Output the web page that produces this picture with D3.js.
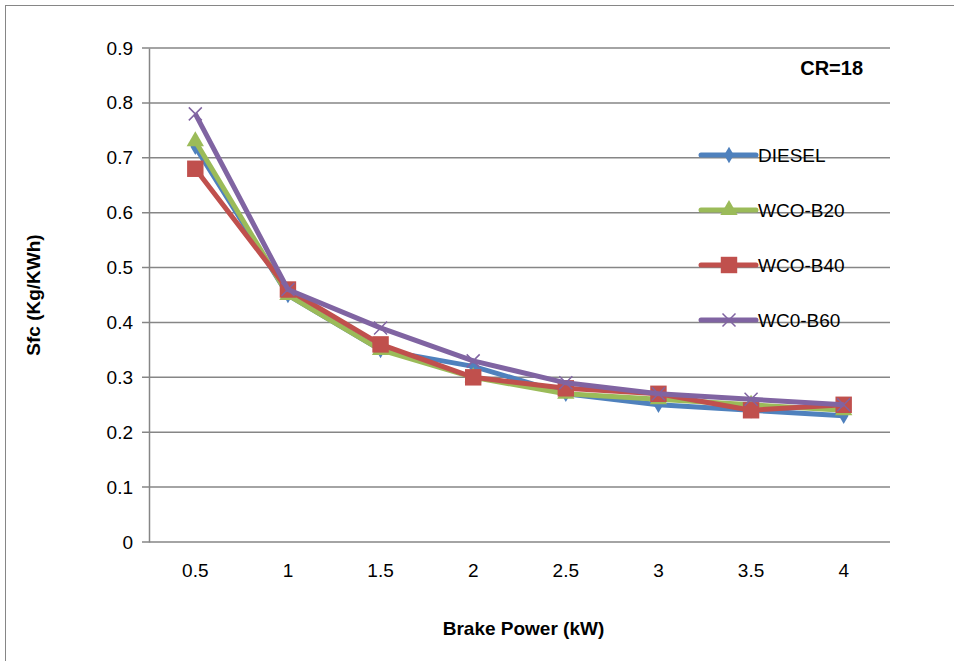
<!DOCTYPE html>
<html>
<head>
<meta charset="utf-8">
<script src="https://cdn.jsdelivr.net/npm/d3@7"></script>
<style>
  body { margin: 0; background: #fff; }
  text { font-family: "Liberation Sans", Arial, sans-serif; }
</style>
</head>
<body>
<script>
// values
const power = ["0.5", "1", "1.5", "2", "2.5", "3", "3.5", "4"];
const diesel = [0.72, 0.45, 0.35, 0.32, 0.27, 0.25, 0.24, 0.23];
const b20 = [0.73, 0.45, 0.35, 0.30, 0.27, 0.26, 0.25, 0.24];
const b40 = [0.68, 0.46, 0.36, 0.30, 0.28, 0.27, 0.24, 0.25];
const b60 = [0.78, 0.46, 0.39, 0.33, 0.29, 0.27, 0.26, 0.25];
const yTicks = [0, 0.1, 0.2, 0.3, 0.4, 0.5, 0.6, 0.7, 0.8, 0.9];

const series = [
    {name: "DIESEL", values: diesel, color: "#4F81BD", symbol: d3.symbolDiamond, size: 80},
    {name: "WCO-B20", values: b20, color: "#9BBB59", symbol: d3.symbolTriangle, size: 130},
    {name: "WCO-B40", values: b40, color: "#C0504D", symbol: d3.symbolSquare, size: 270},
    {name: "WC0-B60", values: b60, color: "#8064A2", symbol: "x", size: 13}
];

const svgWidth = 954;
const svgHeight = 661;
const margin = {top: 48, right: 64, bottom: 119, left: 149};
const chartWidth = svgWidth - margin.left - margin.right;
const chartHeight = svgHeight - margin.top - margin.bottom;

const svg = d3.select("body").append("svg")
    .attr("width", svgWidth)
    .attr("height", svgHeight);

// outer frame
svg.append("rect")
    .attr("x", 5.5).attr("y", 5.5)
    .attr("width", 1000).attr("height", 1000)
    .attr("fill", "none")
    .attr("stroke", "#868686");

const g = svg.append("g")
    .attr("transform", `translate(${margin.left}, ${margin.top})`);

const scaleX = d3.scaleBand()
    .domain(power)
    .range([0, chartWidth]);

const scaleY = d3.scaleLinear()
    .domain([0, 0.9])
    .range([chartHeight, 0]);

// gridlines
g.append("g")
    .selectAll("line")
    .data(yTicks)
    .join("line")
    .attr("x1", -7)
    .attr("x2", chartWidth)
    .attr("y1", d => scaleY(d))
    .attr("y2", d => scaleY(d))
    .attr("stroke", "#868686")
    .attr("stroke-width", 1.5);

// y axis
const yAxis = g.append("g")
    .call(d3.axisLeft(scaleY).tickValues(yTicks).tickSize(0).tickPadding(16).tickFormat(d => d3.format("")(+d.toFixed(1))));
yAxis.select(".domain").attr("stroke", "#868686").attr("stroke-width", 1.5);
yAxis.selectAll("text").style("font-size", "19px").attr("fill", "#000")
    .style("font-family", "'Liberation Sans', Arial, sans-serif");

// x axis
const xAxis = g.append("g")
    .attr("transform", `translate(0, ${chartHeight})`)
    .call(d3.axisBottom(scaleX).tickSize(0).tickPadding(22));
xAxis.select(".domain").remove();
xAxis.selectAll("text").style("font-size", "19px").attr("fill", "#000")
    .style("font-family", "'Liberation Sans', Arial, sans-serif");

// axis titles
g.append("text")
    .attr("x", chartWidth / 2 + 4)
    .attr("y", chartHeight + 93)
    .attr("text-anchor", "middle")
    .style("font-size", "19px")
    .style("font-weight", "bold")
    .text("Brake Power (kW)");

g.append("text")
    .attr("transform", `translate(${-109}, ${chartHeight / 2}) rotate(-90)`)
    .attr("text-anchor", "middle")
    .style("font-size", "19px")
    .style("font-weight", "bold")
    .text("Sfc (Kg/KWh)");

g.append("text")
    .attr("x", 714)
    .attr("y", 27)
    .attr("text-anchor", "end")
    .style("font-size", "20px")
    .style("font-weight", "bold")
    .text("CR=18");

const cx = (d, i) => scaleX(power[i]) + scaleX.bandwidth() / 2;

function drawMarker(sel, s) {
    if (s.symbol === "x") {
        const h = s.size / 2;
        sel.append("path")
            .attr("d", `M${-h},${-h}L${h},${h}M${-h},${h}L${h},${-h}`)
            .attr("stroke", s.color)
            .attr("stroke-width", 1.5)
            .attr("fill", "none");
    } else {
        sel.append("path")
            .attr("d", d3.symbol().type(s.symbol).size(s.size)())
            .attr("fill", s.color);
    }
}

const line = d3.line()
    .x(cx)
    .y(d => scaleY(d));

series.forEach(s => {
    g.append("path")
        .datum(s.values)
        .attr("d", line)
        .attr("fill", "none")
        .attr("stroke", s.color)
        .attr("stroke-width", 5)
        .attr("stroke-linejoin", "round");

    g.append("g")
        .selectAll("g")
        .data(s.values)
        .join("g")
        .attr("transform", (d, i) => `translate(${cx(d, i)}, ${scaleY(d)})`)
        .each(function () { drawMarker(d3.select(this), s); });
});

// legend
const legend = g.append("g")
    .attr("transform", `translate(${552}, ${107})`);

series.forEach((s, i) => {
    const row = legend.append("g")
        .attr("transform", `translate(0, ${i * 55})`);
    row.append("line")
        .attr("x1", 0).attr("x2", 55)
        .attr("stroke", s.color)
        .attr("stroke-width", 5)
        .attr("stroke-linecap", "round");
    row.append("g")
        .attr("transform", "translate(28, 0)")
        .call(sel => drawMarker(sel, s));
    row.append("text")
        .attr("x", 57)
        .attr("dy", "0.35em")
        .style("font-size", "19px")
        .text(s.name);
});
</script>
</body>
</html>
